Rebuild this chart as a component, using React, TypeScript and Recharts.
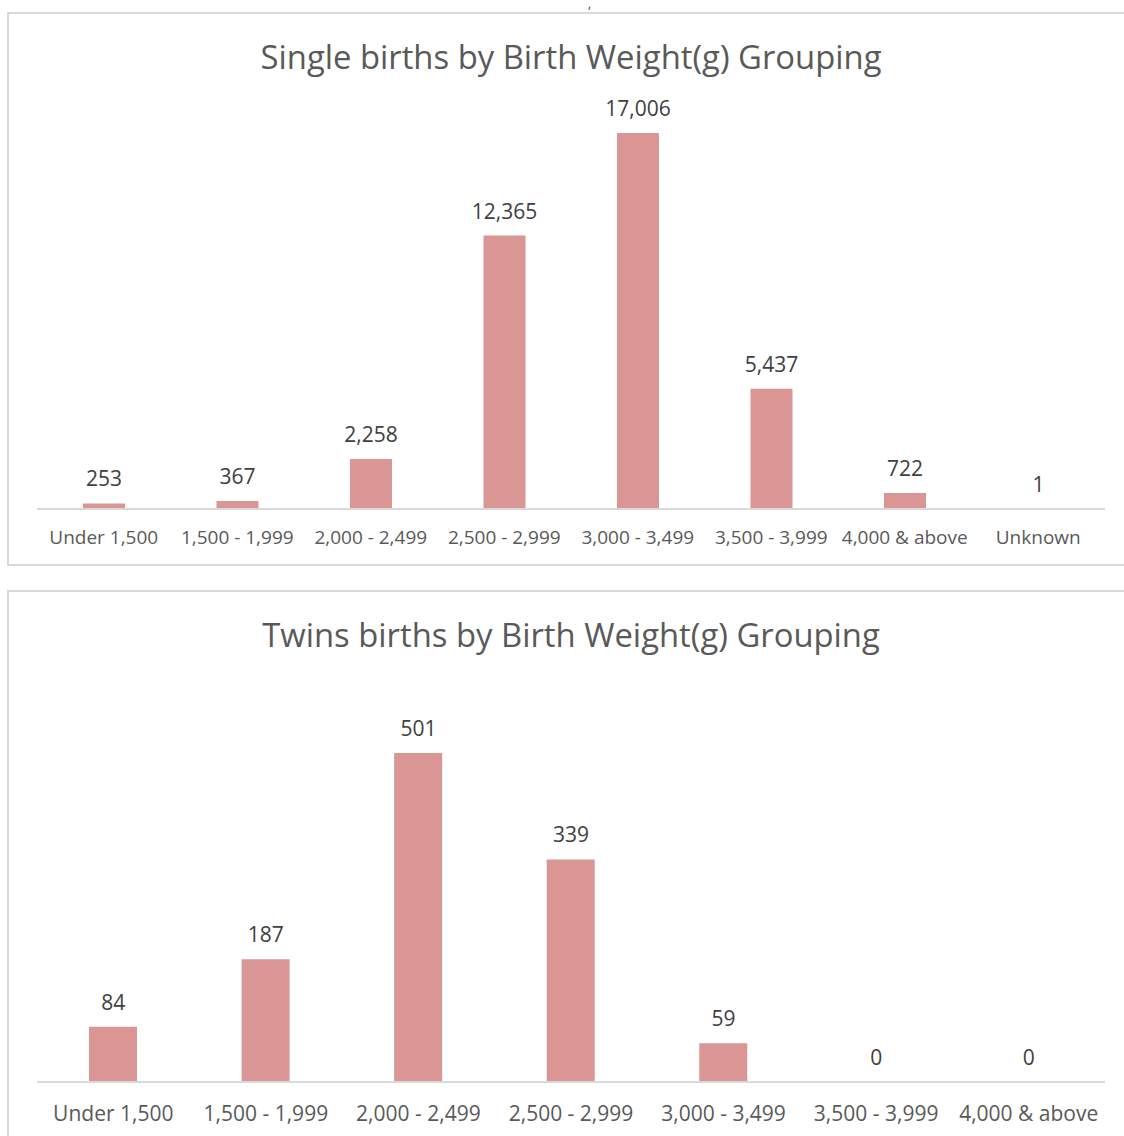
import React from 'react';
import { BarChart, ComposedChart, Bar, Line, XAxis, YAxis, LabelList } from 'recharts';

// single births
const singleCategories = [
  'Under 1,500',
  '1,500 - 1,999',
  '2,000 - 2,499',
  '2,500 - 2,999',
  '3,000 - 3,499',
  '3,500 - 3,999',
  '4,000 & above',
  'Unknown',
];
const singleValues = [253, 367, 2258, 12365, 17006, 5437, 722, 1];

// twins births
const twinCategories = [
  'Under 1,500',
  '1,500 - 1,999',
  '2,000 - 2,499',
  '2,500 - 2,999',
  '3,000 - 3,499',
  '3,500 - 3,999',
  '4,000 & above',
];
const twinValues = [84, 187, 501, 339, 59, 0, 0];

const singleData = singleCategories.map((name, i) => ({ name, value: singleValues[i] }));
const twinData = twinCategories.map((name, i) => ({ name, value: twinValues[i] }));

const FONT = '"Open Sans", sans-serif';
const BAR_COLOR = '#d99694';
const AXIS_COLOR = '#d9d9d9';

const makeTick = (fontSize: number, gap: number) => (props: any) => {
  const { x, y, payload } = props;
  return (
    <text
      x={x}
      y={y + gap}
      textAnchor="middle"
      dominantBaseline="central"
      fill="#595959"
      fontSize={fontSize}
      fontFamily={FONT}
    >
      {payload.value}
    </text>
  );
};

const fmt = (v: any) => Number(v).toLocaleString('en-US');

const titleStyle = (top: number): React.CSSProperties => ({
  position: 'absolute',
  left: 0,
  top,
  width: 1142,
  textAlign: 'center',
  fontFamily: FONT,
  fontSize: 32.8,
  lineHeight: '40px',
  color: '#595959',
});

const App = () => {
  return (
    <div
      style={{
        position: 'absolute',
        left: 0,
        top: 0,
        width: 1124,
        height: 1136,
        overflow: 'hidden',
        background: '#fff',
      }}
    >
      <div
        style={{
          position: 'absolute',
          left: 588,
          top: 0,
          fontFamily: FONT,
          fontSize: 12,
          lineHeight: '8px',
          color: '#333',
        }}
      >
        ,
      </div>

      {/* top chart */}
      <div
        style={{
          position: 'absolute',
          left: 7,
          top: 12,
          width: 1140,
          height: 554,
          border: `2px solid ${AXIS_COLOR}`,
          boxSizing: 'border-box',
        }}
      />
      <div style={titleStyle(37)}>Single births by Birth Weight(g) Grouping</div>
      <div style={{ position: 'absolute', left: 0, top: 0 }}>
        <BarChart
          width={1124}
          height={567}
          data={singleData}
          margin={{ top: 111, right: 19, left: 37, bottom: 28 }}
        >
          <XAxis
            dataKey="name"
            height={30}
            tickLine={false}
            tickSize={0}
            tickMargin={0}
            axisLine={{ stroke: AXIS_COLOR, strokeWidth: 2 }}
            tick={makeTick(19, 28)}
            interval={0}
          />
          <YAxis hide domain={[0, 18000]} />
          <Bar dataKey="value" fill={BAR_COLOR} barSize={42} isAnimationActive={false}>
            <LabelList
              dataKey="value"
              position="top"
              offset={17}
              formatter={fmt}
              fill="#404040"
              fontSize={21}
              fontFamily={FONT}
            />
          </Bar>
        </BarChart>
      </div>

      {/* bottom chart */}
      <div
        style={{
          position: 'absolute',
          left: 7,
          top: 590,
          width: 1140,
          height: 600,
          border: `2px solid ${AXIS_COLOR}`,
          boxSizing: 'border-box',
        }}
      />
      <div style={titleStyle(615)}>Twins births by Birth Weight(g) Grouping</div>
      <div style={{ position: 'absolute', left: 0, top: 590 }}>
        <ComposedChart
          width={1124}
          height={546}
          data={twinData}
          margin={{ top: 98, right: 19, left: 37, bottom: 24 }}
        >
          <XAxis
            dataKey="name"
            height={30}
            tickLine={false}
            tickSize={0}
            tickMargin={0}
            axisLine={{ stroke: AXIS_COLOR, strokeWidth: 2 }}
            tick={makeTick(21, 31)}
            interval={0}
          />
          <YAxis hide domain={[0, 600]} />
          <Bar dataKey="value" fill={BAR_COLOR} barSize={48} isAnimationActive={false} />
          {/* invisible line only carries the value labels (zero bars get none otherwise) */}
          <Line
            dataKey="value"
            stroke="none"
            dot={false}
            activeDot={false}
            legendType="none"
            isAnimationActive={false}
          >
            <LabelList
              dataKey="value"
              position="top"
              offset={17}
              formatter={fmt}
              fill="#404040"
              fontSize={21}
              fontFamily={FONT}
            />
          </Line>
        </ComposedChart>
      </div>
    </div>
  );
};

export default App;
